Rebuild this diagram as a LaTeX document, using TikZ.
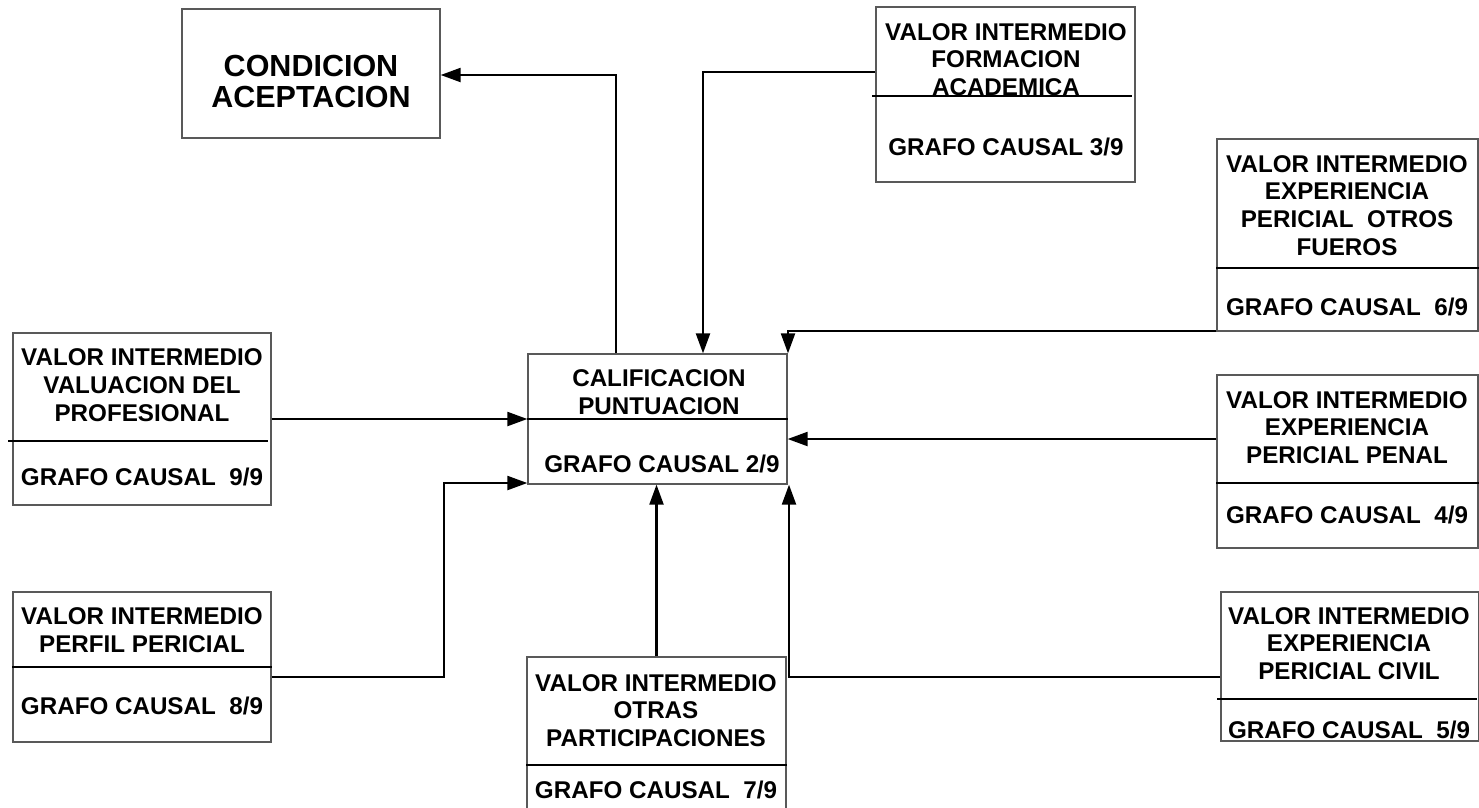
\documentclass[tikz,border=0pt]{standalone}
\usepackage{fontspec}
\setmainfont{Liberation Sans}
\usetikzlibrary{arrows.meta}

\begin{document}
\begin{tikzpicture}[x=1pt, y=-1pt,
    box/.style={draw=black!65, line width=1.3pt, inner sep=0pt},
    ttl/.style={font=\bfseries\fontsize{24.2}{27.8}\selectfont, align=center, inner sep=0pt},
    big/.style={font=\bfseries\fontsize{30.5}{31}\selectfont, align=center, inner sep=0pt},
    sep/.style={line width=2pt},
    conn/.style={line width=2.2pt, -{Triangle[length=20pt,width=14pt]}}]
    \useasboundingbox (0,0) rectangle (1479,807);
    % boxes
    \node[box, minimum width=258pt, minimum height=129pt] (cond) at (311,73.5) {};
    \node[box, minimum width=259pt, minimum height=175pt] (form) at (1005.5,94.5) {};
    \node[box, minimum width=261pt, minimum height=192pt] (otros) at (1347.5,235) {};
    \node[box, minimum width=259pt, minimum height=130pt] (cal) at (657.5,419) {};
    \node[box, minimum width=258pt, minimum height=172pt] (valu) at (142,419) {};
    \node[box, minimum width=261pt, minimum height=173pt] (penal) at (1347.5,461.5) {};
    \node[box, minimum width=258pt, minimum height=150pt] (perfil) at (142,667) {};
    \node[box, minimum width=258pt, minimum height=149pt] (civil) at (1350,666.5) {};
    \node[box, minimum width=259pt, minimum height=180pt] (otras) at (656.5,747) {};
    % dividers
    \draw[sep] (872,96) -- (1132,96);
    \draw[sep] (otros.west |- 0,268) -- (otros.east |- 0,268);
    \draw[sep] (cal.west |- 0,419) -- (cal.east |- 0,419);
    \draw[sep] (8,441) -- (268,441);
    \draw[sep] (penal.west |- 0,483) -- (penal.east |- 0,483);
    \draw[sep] (perfil.west |- 0,667) -- (perfil.east |- 0,667);
    \draw[sep] (1217,699) -- (1477,699);
    \draw[sep] (otras.west |- 0,765) -- (otras.east |- 0,765);
    % texts
    \node[big] (cond-t) at (311,81.5) {CONDICION\\ACEPTACION};
    \node[ttl] (form-t) at (1006,59.5) {VALOR INTERMEDIO\\FORMACION\\ACADEMICA};
    \node[ttl] (form-g) at (1006,147) {GRAFO CAUSAL 3/9};
    \node[ttl] (otros-t) at (1347,205.5) {VALOR INTERMEDIO\\EXPERIENCIA\\PERICIAL\ \ OTROS\\FUEROS};
    \node[ttl] (otros-g) at (1347,307) {GRAFO CAUSAL\ \ 6/9};
    \node[ttl] (cal-t) at (659,392) {CALIFICACION\\PUNTUACION};
    \node[ttl] (cal-g) at (662,464) {GRAFO CAUSAL 2/9};
    \node[ttl] (valu-t) at (142,385) {VALOR INTERMEDIO\\VALUACION DEL\\PROFESIONAL};
    \node[ttl] (valu-g) at (142,477) {GRAFO CAUSAL\ \ 9/9};
    \node[ttl] (penal-t) at (1347,427.5) {VALOR INTERMEDIO\\EXPERIENCIA\\PERICIAL PENAL};
    \node[ttl] (penal-g) at (1347,515) {GRAFO CAUSAL\ \ 4/9};
    \node[ttl] (perfil-t) at (142,630.5) {VALOR INTERMEDIO\\PERFIL PERICIAL};
    \node[ttl] (perfil-g) at (142,706) {GRAFO CAUSAL\ \ 8/9};
    \node[ttl] (civil-t) at (1349,643.5) {VALOR INTERMEDIO\\EXPERIENCIA\\PERICIAL CIVIL};
    \node[ttl] (civil-g) at (1349,730) {GRAFO CAUSAL\ \ 5/9};
    \node[ttl] (otras-t) at (656,710.5) {VALOR INTERMEDIO\\OTRAS\\PARTICIPACIONES};
    \node[ttl] (otras-g) at (656,790) {GRAFO CAUSAL\ \ 7/9};
    % connectors
    \draw[conn] (cal.north -| 616,0) -- (616,75) -- (cond.east |- 0,75);
    \draw[conn] (form.west |- 0,72) -- (703,72) -- (cal.north -| 703,0);
    \draw[conn] (otros.west |- 0,331) -- (788,331) -- (cal.north -| 788,0);
    \draw[conn] (penal.west |- 0,439) -- (cal.east |- 0,439);
    \draw[conn] (civil.west |- 0,677) -- (789,677) -- (cal.south -| 789,0);
    \draw[conn] (otras.north) -- (cal.south -| otras.north);
    \draw[conn] (perfil.east |- 0,677) -- (444,677) -- (444,483) -- (cal.west |- 0,483);
    \draw[conn] (valu.east) -- (cal.west);
\end{tikzpicture}
\end{document}
